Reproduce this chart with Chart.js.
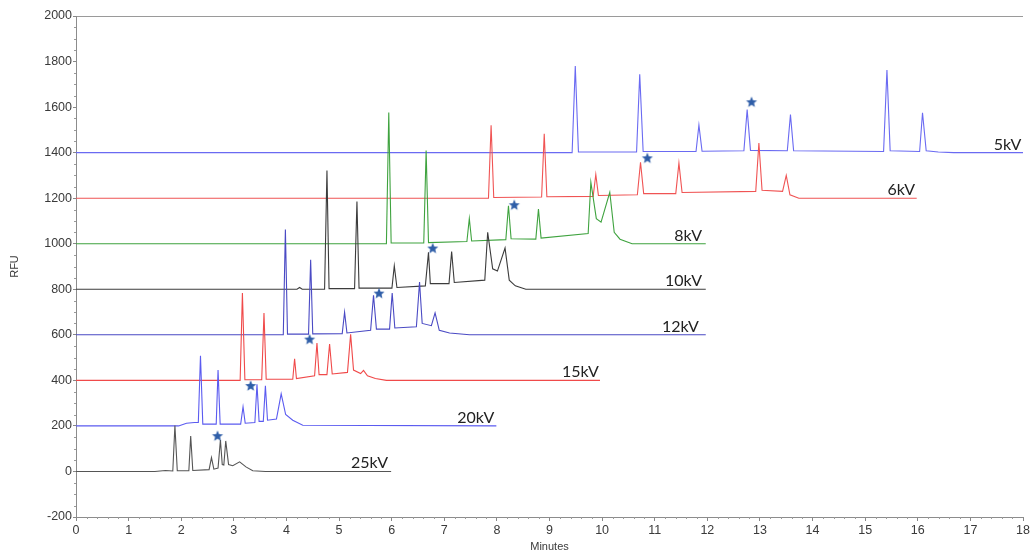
<!DOCTYPE html>
<html>
<head>
<meta charset="utf-8">
<script src="https://cdn.jsdelivr.net/npm/chart.js@4.4.1/dist/chart.umd.min.js"></script>
<style>
  html, body { margin: 0; padding: 0; background: #ffffff; }
  #wrap { width: 1030px; height: 554px; position: relative; }
</style>
</head>
<body>
<div id="wrap"><canvas id="c"></canvas></div>
<script>
// ---- Data (minutes, RFU above each trace's own baseline) ----
const traceNames = ['25kV', '20kV', '15kV', '12kV', '10kV', '8kV', '6kV', '5kV'];
const baselines  = [0, 200, 400, 600, 800, 1000, 1200, 1400];
const labelX     = [5.93, 7.95, 9.94, 11.84, 11.90, 11.90, 15.95, 17.97];

const t25 = [0, 1.50, 1.70, 1.84, 1.88, 1.925, 2.145, 2.18, 2.22, 2.53, 2.575, 2.62, 2.70, 2.745, 2.78, 2.81, 2.846, 2.90, 2.98, 3.11, 3.23, 3.36, 3.60, 5.99];
const v25 = [0, 0, 4, 2, 202, 3, 3, 156, 4, 8, 61, 10, 15, 138, 30, 28, 134, 30, 25, 42, 20, 3, 0, 0];

const t20 = [0, 1.95, 2.10, 2.25, 2.325, 2.366, 2.41, 2.665, 2.70, 2.74, 3.13, 3.175, 3.216, 3.40, 3.44, 3.48, 3.56, 3.60, 3.64, 3.81, 3.90, 3.985, 4.12, 4.31, 7.99];
const v20 = [0, 0, 12, 15, 15, 308, 8, 8, 245, 8, 8, 84, 12, 15, 183, 20, 20, 176, 25, 30, 141, 50, 25, 3, 0];

const t15 = [0, 3.12, 3.163, 3.21, 3.53, 3.573, 3.615, 4.12, 4.155, 4.19, 4.535, 4.58, 4.62, 4.77, 4.82, 4.87, 5.16, 5.22, 5.275, 5.41, 5.465, 5.54, 5.69, 5.90, 9.96];
const v15 = [0, 0, 384, 3, 3, 296, 5, 5, 95, 8, 20, 164, 25, 25, 160, 28, 35, 202, 45, 30, 44, 20, 8, 0, 0];

const t12 = [0, 3.94, 3.98, 4.02, 4.42, 4.46, 4.50, 5.06, 5.105, 5.15, 5.60, 5.655, 5.71, 5.96, 6.01, 6.06, 6.47, 6.53, 6.58, 6.755, 6.825, 6.905, 7.10, 7.48, 11.97];
const v12 = [0, 0, 462, 3, 3, 330, 4, 5, 99, 8, 20, 174, 25, 25, 184, 30, 35, 232, 50, 40, 96, 20, 8, 0, 0];

const t10 = [0, 4.20, 4.25, 4.30, 4.725, 4.77, 4.81, 5.295, 5.34, 5.38, 6.005, 6.05, 6.10, 6.64, 6.70, 6.735, 7.09, 7.14, 7.19, 7.77, 7.825, 7.92, 8.01, 8.155, 8.235, 8.35, 8.55, 11.97];
const v10 = [0, 0, 8, 0, 0, 521, 3, 3, 385, 5, 5, 103, 8, 15, 162, 25, 25, 166, 30, 40, 250, 90, 80, 181, 40, 15, 0, 0];

const t8 = [0, 5.90, 5.945, 5.99, 6.61, 6.655, 6.70, 7.43, 7.476, 7.52, 8.17, 8.22, 8.27, 8.74, 8.79, 8.84, 9.735, 9.786, 9.89, 9.98, 10.146, 10.23, 10.34, 10.57, 11.97];
const v8 = [0, 0, 576, 3, 3, 409, 5, 10, 111, 12, 18, 167, 22, 20, 152, 25, 45, 270, 110, 95, 226, 50, 20, 0, 0];

const t6 = [0, 7.84, 7.89, 7.94, 8.85, 8.90, 8.95, 9.83, 9.88, 9.93, 10.67, 10.73, 10.79, 11.40, 11.46, 11.52, 12.92, 12.98, 13.04, 13.43, 13.50, 13.57, 13.74, 15.98];
const v6 = [0, 0, 320, 3, 5, 283, 6, 8, 104, 12, 15, 158, 20, 20, 154, 25, 30, 242, 35, 30, 100, 15, 0, 0];

const t5 = [0, 9.43, 9.49, 9.55, 10.655, 10.715, 10.78, 11.785, 11.84, 11.90, 12.695, 12.757, 12.82, 13.52, 13.58, 13.64, 15.35, 15.414, 15.475, 16.035, 16.09, 16.16, 16.39, 16.68, 18];
const v5 = [0, 0, 380, 3, 3, 344, 5, 5, 121, 6, 8, 189, 10, 8, 167, 8, 5, 363, 8, 5, 175, 8, 3, 0, 0];

const starX = [2.69, 3.32, 4.44, 5.76, 6.78, 8.33, 10.86, 12.84];
const starY = [155, 375, 579, 781, 979, 1169, 1375, 1621];

const xTickLabels = [0,1,2,3,4,5,6,7,8,9,10,11,12,13,14,15,16,17,18];

// ---- Styles ----
const traceColors = ['#555555', '#5b5bf0', '#f04a4a', '#4a4ac4', '#3c3c3c', '#3fa33f', '#f05454', '#6a6af2'];
const traceT = [t25, t20, t15, t12, t10, t8, t6, t5];
const traceV = [v25, v20, v15, v12, v10, v8, v6, v5];

function makeStar(r, color) {
  const s = Math.ceil(r * 2 + 2);
  const c = document.createElement('canvas');
  c.width = s; c.height = s;
  const g = c.getContext('2d');
  g.fillStyle = color;
  g.beginPath();
  for (let i = 0; i < 10; i++) {
    const rad = (i % 2) ? r * 0.45 : r;
    const a = -Math.PI / 2 + i * Math.PI / 5;
    const px = s / 2 + rad * Math.cos(a), py = s / 2 + rad * Math.sin(a);
    if (i === 0) g.moveTo(px, py); else g.lineTo(px, py);
  }
  g.closePath();
  g.fill();
  return c;
}
const starImg = makeStar(5.8, '#2f5ea8');

const datasets = traceNames.map((name, i) => ({
  label: name,
  data: traceT[i].map((t, k) => ({ x: t, y: baselines[i] + traceV[i][k] })),
  borderColor: traceColors[i],
  borderWidth: 1.1,
  pointRadius: 0,
  tension: 0,
  fill: false,
  order: 2
}));
datasets.push({
  type: 'scatter',
  label: 'stars',
  data: starX.map((x, k) => ({ x: x, y: starY[k] })),
  pointStyle: starImg,
  pointRadius: 6,
  order: 1
});

const labelPlugin = {
  id: 'traceLabels',
  afterDatasetsDraw(chart) {
    const { ctx, scales: { x, y } } = chart;
    ctx.save();
    ctx.font = '16px Lato, "Open Sans", sans-serif';
    ctx.fillStyle = '#222222';
    ctx.textAlign = 'right';
    ctx.textBaseline = 'alphabetic';
    traceNames.forEach((n, i) => {
      ctx.fillText(n, x.getPixelForValue(labelX[i]), y.getPixelForValue(baselines[i]) - 3);
    });
    ctx.restore();
  }
};

const minorTicks = {
  id: 'minorTicks',
  afterDraw(chart) {
    const { ctx, scales: { x, y }, chartArea } = chart;
    ctx.save();
    ctx.strokeStyle = '#9a9a9a';
    ctx.lineWidth = 1;
    ctx.beginPath();
    for (let k = 0; k <= 90; k++) {
      if (k % 5 === 0) continue;
      const px = Math.round(x.getPixelForValue(k * 0.2)) + 0.5;
      ctx.moveTo(px, chartArea.bottom);
      ctx.lineTo(px, chartArea.bottom + 2);
    }
    for (let k = -4; k <= 40; k++) {
      if (k % 4 === 0) continue;
      const py = Math.round(y.getPixelForValue(k * 50)) + 0.5;
      ctx.moveTo(chartArea.left, py);
      ctx.lineTo(chartArea.left - 2, py);
    }
    ctx.stroke();
    ctx.restore();
  }
};

new Chart(document.getElementById('c'), {
  type: 'line',
  data: { datasets },
  options: {
    responsive: true,
    maintainAspectRatio: false,
    animation: false,
    events: [],
    layout: { padding: { top: 16, right: 5, left: 0, bottom: 0 } },
    plugins: { legend: { display: false }, tooltip: { enabled: false } },
    scales: {
      x: {
        type: 'linear',
        min: 0, max: 18,
        afterFit(s) { s.height = 37; s.paddingLeft = 0; s.paddingRight = 0; },
        afterBuildTicks(s) { s.ticks = xTickLabels.map(v => ({ value: v })); },
        ticks: {
          autoSkip: false, maxRotation: 0, padding: 2,
          color: '#3a3a3a',
          font: { family: '"Liberation Sans", Arial, sans-serif', size: 12.5 },
          callback: v => String(v)
        },
        grid: { drawOnChartArea: false, tickLength: 4, tickColor: '#888888' },
        border: { display: true, color: '#8c8c8c', width: 1 },
        title: {
          display: true, text: 'Minutes', color: '#3a3a3a',
          font: { family: '"Liberation Sans", Arial, sans-serif', size: 11 },
          padding: { top: 0, bottom: 0 }
        }
      },
      y: {
        min: -200, max: 2000,
        afterFit(s) { s.width = 76; s.paddingTop = 0; s.paddingBottom = 0; },
        ticks: {
          stepSize: 200, padding: 1,
          color: '#3a3a3a',
          font: { family: '"Liberation Sans", Arial, sans-serif', size: 12.5 },
          callback: v => String(v)
        },
        grid: {
          drawOnChartArea: true,
          tickLength: 3,
          tickColor: '#888888',
          color: ctx => (ctx.tick && ctx.tick.value === 2000) ? '#9a9a9a' : 'rgba(0,0,0,0)'
        },
        border: { display: true, color: '#8c8c8c', width: 1 },
        title: {
          display: true, text: 'RFU', color: '#3a3a3a',
          font: { family: '"Liberation Sans", Arial, sans-serif', size: 11 },
          padding: { top: 8, bottom: 0 }
        }
      }
    }
  },
  plugins: [labelPlugin, minorTicks]
});
</script>
</body>
</html>
